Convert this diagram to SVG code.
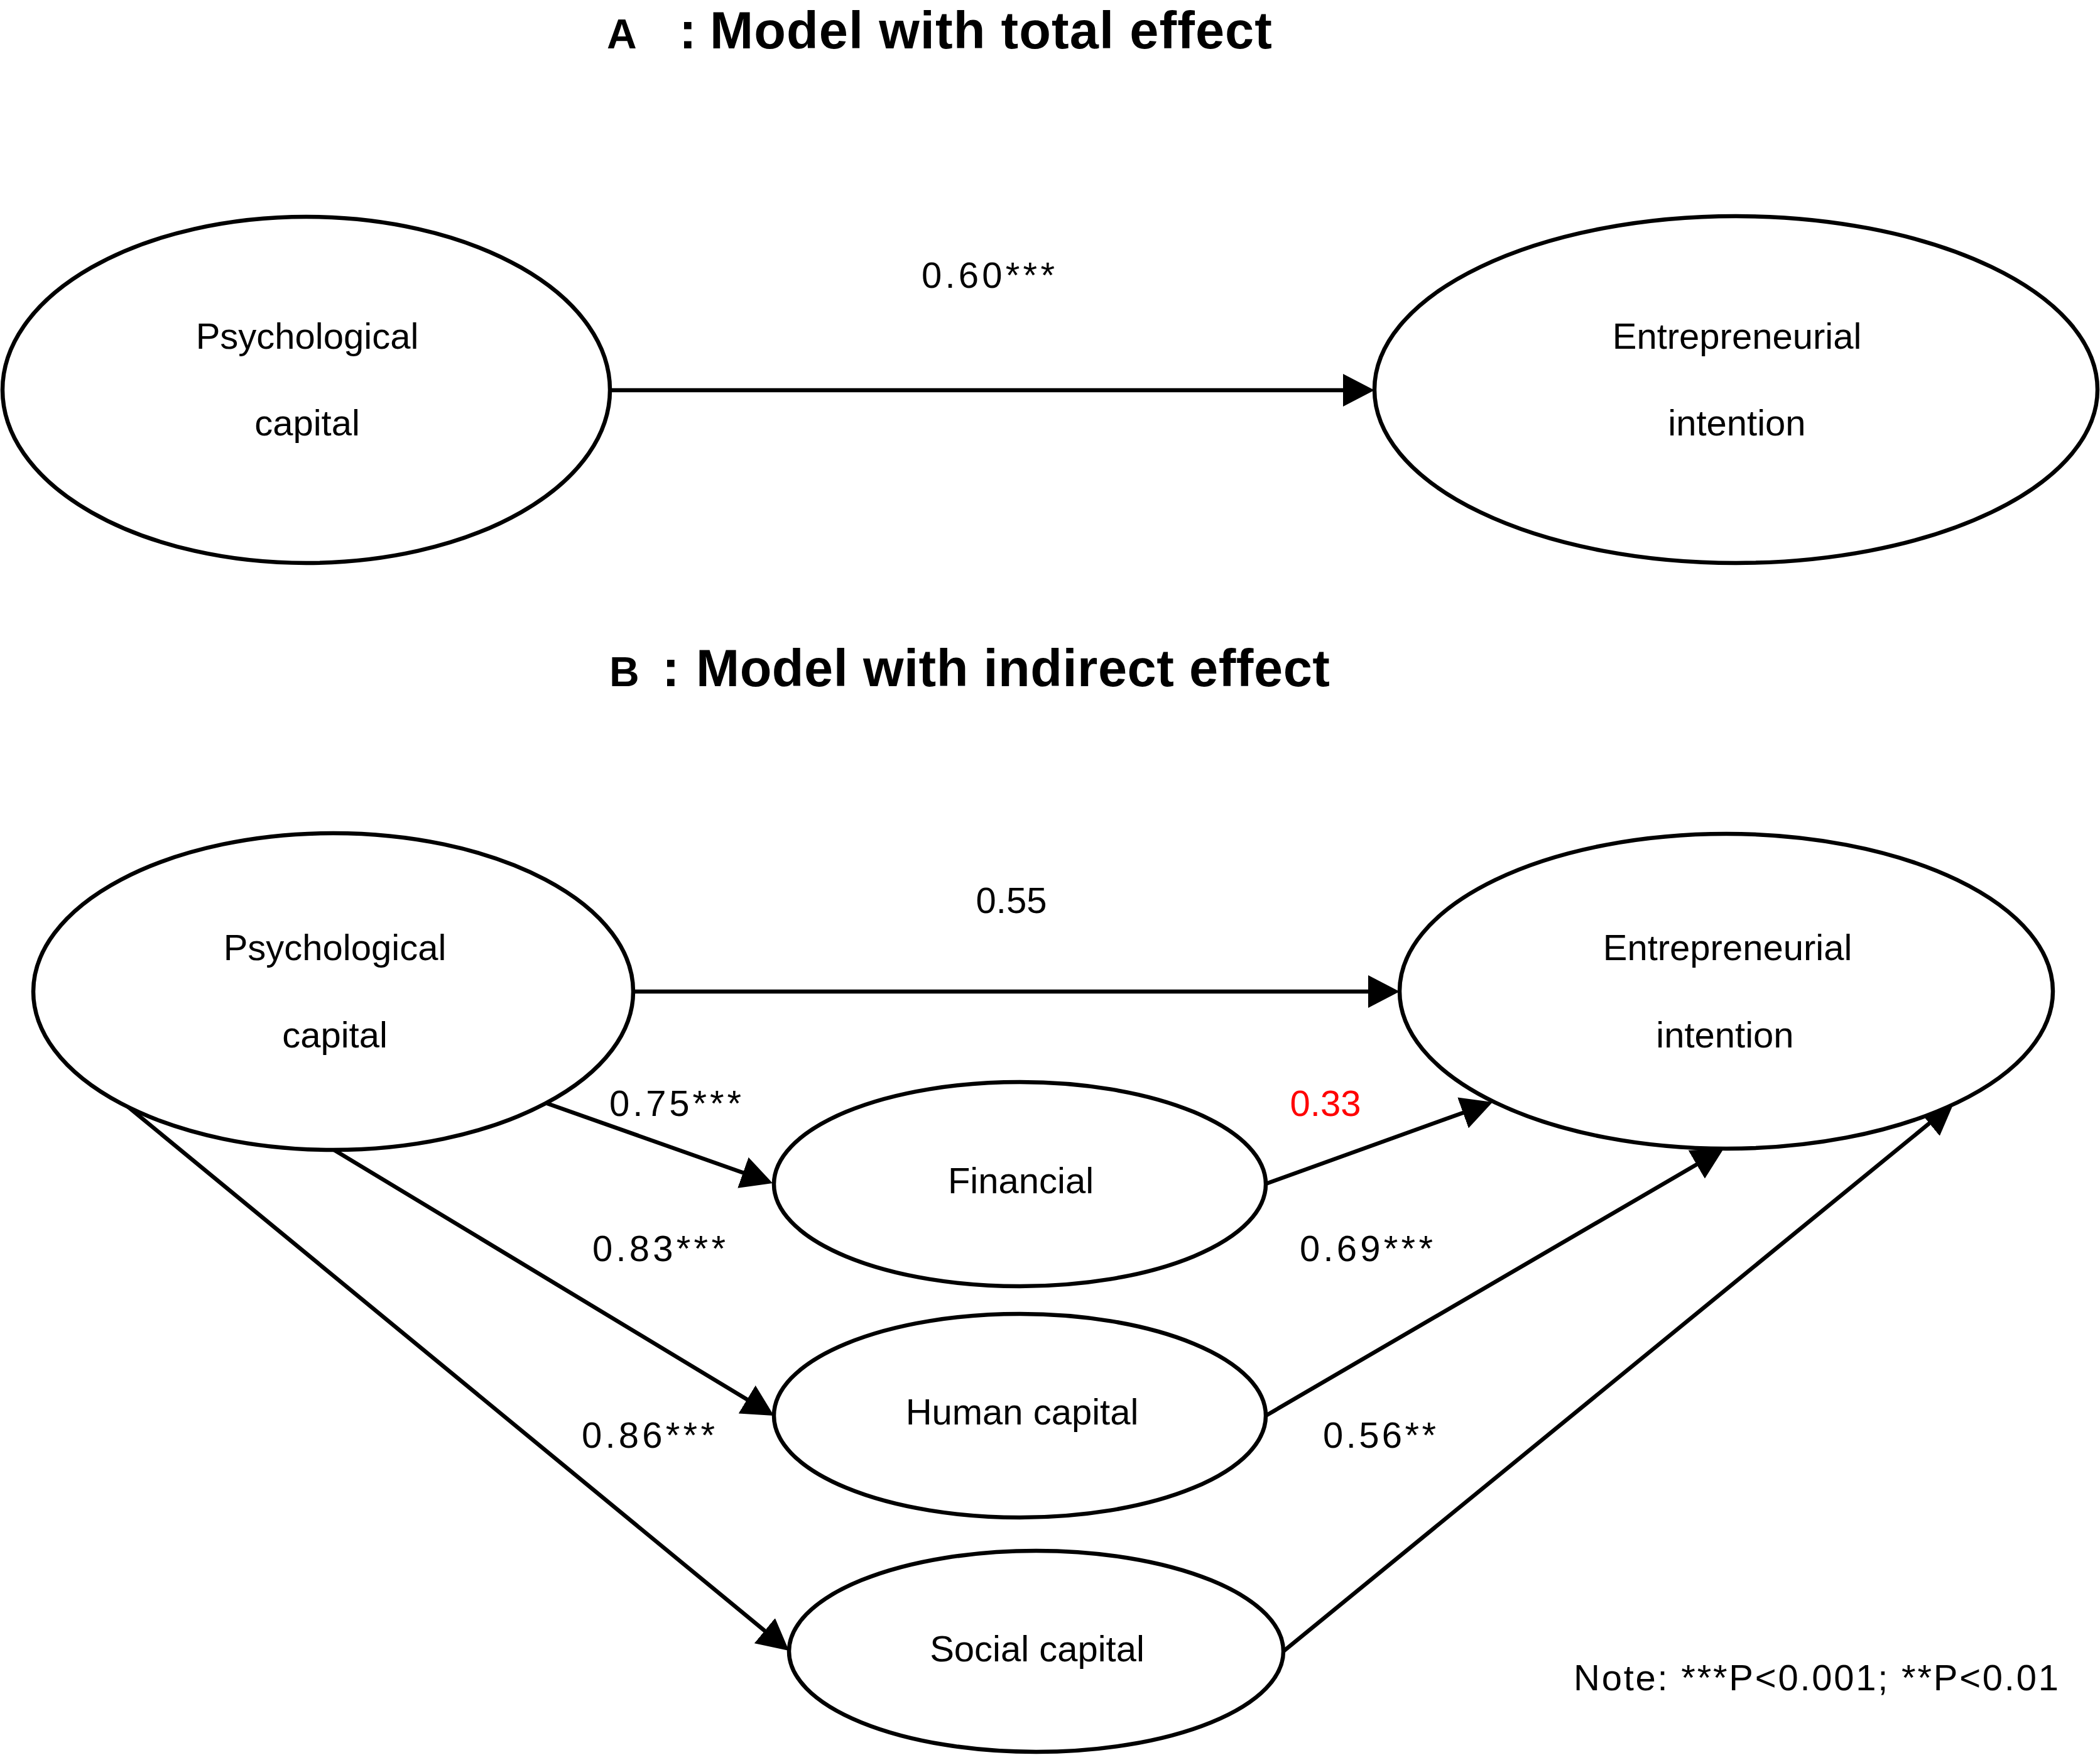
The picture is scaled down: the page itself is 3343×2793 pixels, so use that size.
<svg xmlns="http://www.w3.org/2000/svg" width="3343" height="2793" viewBox="0 0 3343 2793">
<style>
.node{fill:#fff;stroke:#000;stroke-width:6.5}
.lbl{font-family:"Liberation Sans",Arial,sans-serif;font-size:58px;fill:#000;text-anchor:middle}
.ttl{font-family:"Liberation Sans",Arial,sans-serif;font-weight:bold;fill:#000}
.edge{stroke:#000;stroke-width:6.5;fill:none;marker-end:url(#arr)}
</style>
<defs>
<marker id="arr" markerUnits="userSpaceOnUse" viewBox="0 0 50 52" markerWidth="50" markerHeight="52" refX="5" refY="26" orient="auto">
<path d="M0,0 L50,26 L0,52 Z" fill="#000"/>
</marker>
</defs>
<rect width="3343" height="2793" fill="#fff"/>

<text class="ttl" y="77"><tspan x="966" font-size="66">A</tspan><tspan x="1081" font-size="83">:</tspan><tspan x="1130" font-size="83" textLength="895">Model with total effect</tspan></text>
<text class="ttl" y="1092"><tspan x="970" font-size="66">B</tspan><tspan x="1054" font-size="83">:</tspan><tspan x="1108" font-size="83" textLength="1009">Model with indirect effect</tspan></text>

<g id="edges">
<line class="edge" x1="971" y1="621" x2="2143" y2="621"/>
<line class="edge" x1="1008" y1="1578" x2="2183" y2="1578"/>
<line class="edge" x1="868" y1="1755" x2="1187.6" y2="1868"/>
<line class="edge" x1="530" y1="1829" x2="1193.5" y2="2229.7"/>
<line class="edge" x1="196" y1="1755" x2="1221.2" y2="2598.4"/>
<line class="edge" x1="2015" y1="1884" x2="2333.7" y2="1769.2"/>
<line class="edge" x1="2015" y1="2253" x2="2705.1" y2="1850.7"/>
<line class="edge" x1="2043" y1="2628" x2="3075.2" y2="1784.5"/>
</g>

<g id="edge-labels">
<text class="lbl" x="1573" y="458" textLength="212">0.60***</text>
<text class="lbl" x="1610" y="1453">0.55</text>
<text class="lbl" x="1075" y="1776" textLength="210">0.75***</text>
<text class="lbl" x="2110" y="1776" fill="#ff0000" style="fill:#ff0000">0.33</text>
<text class="lbl" x="1049" y="2007" textLength="212">0.83***</text>
<text class="lbl" x="2175" y="2007" textLength="212">0.69***</text>
<text class="lbl" x="1032" y="2304" textLength="212">0.86***</text>
<text class="lbl" x="2196" y="2304" textLength="180">0.56**</text>
</g>

<g id="a-psychological-capital">
<ellipse class="node" cx="487.5" cy="620.5" rx="483.5" ry="275.5"/>
<text class="lbl" x="489" y="555">Psychological</text>
<text class="lbl" x="489" y="693">capital</text>
</g>
<g id="a-entrepreneurial-intention">
<ellipse class="node" cx="2763.5" cy="620" rx="575.5" ry="276"/>
<text class="lbl" x="2765" y="555">Entrepreneurial</text>
<text class="lbl" x="2765" y="693">intention</text>
</g>

<g id="b-psychological-capital">
<ellipse class="node" cx="530.5" cy="1578" rx="477.5" ry="252"/>
<text class="lbl" x="533" y="1528">Psychological</text>
<text class="lbl" x="533" y="1667">capital</text>
</g>
<g id="b-entrepreneurial-intention">
<ellipse class="node" cx="2748" cy="1577.5" rx="520" ry="250.5"/>
<text class="lbl" x="2750" y="1528">Entrepreneurial</text>
<text class="lbl" x="2746" y="1667">intention</text>
</g>
<g id="financial">
<ellipse class="node" cx="1623.5" cy="1884.5" rx="391.5" ry="162.5"/>
<text class="lbl" x="1625" y="1899">Financial</text>
</g>
<g id="human-capital">
<ellipse class="node" cx="1623.5" cy="2253" rx="391.5" ry="162"/>
<text class="lbl" x="1627" y="2267">Human capital</text>
</g>
<g id="social-capital">
<ellipse class="node" cx="1649.5" cy="2628" rx="393.5" ry="160"/>
<text class="lbl" x="1651" y="2644">Social capital</text>
</g>

<text class="lbl" x="2891" y="2690" textLength="772">Note: ***P&lt;0.001; **P&lt;0.01</text>
</svg>
